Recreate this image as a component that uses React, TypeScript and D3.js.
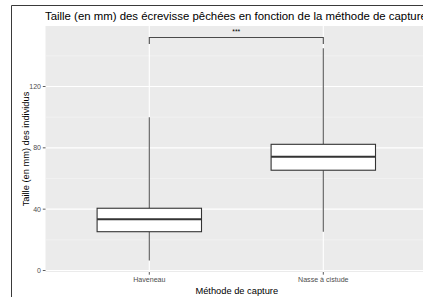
import { useEffect, useRef } from "react";
import * as d3 from "d3";

// categories and box statistics
const categories = ["Haveneau", "Nasse à cistude"];
const whiskerLow = [6.5, 25.3];
const q1 = [25.3, 65.4];
const median = [33.4, 74.2];
const q3 = [40.6, 82.3];
const whiskerHigh = [100, 145];
const majorTicks = [0, 40, 80, 120];
const minorTicks = [20, 60, 100, 140];
const signifLabel = "***";
const signifLevel = 152;

const W = 423;
const H = 297;

const App = () => {
  const svgRef = useRef<SVGSVGElement>(null);

  useEffect(() => {
    if (!svgRef.current) return;
    const svg = d3.select(svgRef.current);
    svg.selectAll("*").remove();

    const font = "'Liberation Sans', Arial, sans-serif";
    const panel = { left: 45.5, right: 429, top: 26, bottom: 272 };

    const y = d3.scaleLinear().domain([0, 120]).range([270.5, 86.5]);
    const x = d3.scalePoint<string>().domain(categories).range([149.3, 323.3]);
    const step = x(categories[1])! - x(categories[0])!;
    const boxW = step * 0.6;

    svg.append("rect").attr("width", W).attr("height", H).attr("fill", "#fff");

    // outer frame (left and top)
    svg.append("path")
      .attr("d", `M11.5,${H} V5.5 H${W}`)
      .attr("fill", "none")
      .attr("stroke", "#3a3a3a")
      .attr("stroke-width", 1);

    // title
    svg.append("text")
      .attr("x", 45)
      .attr("y", 19.5)
      .style("font-family", font)
      .style("font-size", "11.4px")
      .style("fill", "#000")
      .text("Taille (en mm) des écrevisse pêchées en fonction de la méthode de capture");

    // panel
    svg.append("rect")
      .attr("x", panel.left)
      .attr("y", panel.top)
      .attr("width", panel.right - panel.left)
      .attr("height", panel.bottom - panel.top)
      .attr("fill", "#ebebeb");

    const g = svg.append("g");

    g.selectAll(".minor")
      .data(minorTicks)
      .join("line")
      .attr("x1", panel.left).attr("x2", panel.right)
      .attr("y1", d => y(d)).attr("y2", d => y(d))
      .attr("stroke", "#f5f5f5")
      .attr("stroke-width", 0.6);

    g.selectAll(".major")
      .data(majorTicks)
      .join("line")
      .attr("x1", panel.left).attr("x2", panel.right)
      .attr("y1", d => y(d)).attr("y2", d => y(d))
      .attr("stroke", "#fff")
      .attr("stroke-width", 1.1);

    g.selectAll(".vgrid")
      .data(categories)
      .join("line")
      .attr("x1", d => x(d)!).attr("x2", d => x(d)!)
      .attr("y1", panel.top).attr("y2", panel.bottom)
      .attr("stroke", "#fff")
      .attr("stroke-width", 1.1);

    const boxColor = "#333";

    // whiskers, boxes, medians
    categories.forEach((c, i) => {
      const cx = x(c)!;
      g.append("line")
        .attr("x1", cx).attr("x2", cx)
        .attr("y1", y(q3[i])).attr("y2", y(whiskerHigh[i]))
        .attr("stroke", boxColor).attr("stroke-width", 1.1).attr("opacity", 0.8);
      g.append("line")
        .attr("x1", cx).attr("x2", cx)
        .attr("y1", y(q1[i])).attr("y2", y(whiskerLow[i]))
        .attr("stroke", boxColor).attr("stroke-width", 1.1).attr("opacity", 0.8);
      g.append("rect")
        .attr("x", cx - boxW / 2)
        .attr("y", y(q3[i]))
        .attr("width", boxW)
        .attr("height", y(q1[i]) - y(q3[i]))
        .attr("fill", "#fff")
        .attr("stroke", boxColor)
        .attr("stroke-width", 1.1);
      g.append("line")
        .attr("x1", cx - boxW / 2).attr("x2", cx + boxW / 2)
        .attr("y1", y(median[i])).attr("y2", y(median[i]))
        .attr("stroke", boxColor).attr("stroke-width", 2);
    });

    // significance bracket
    const bx1 = x(categories[0])!;
    const bx2 = x(categories[1])!;
    const by = y(signifLevel);
    const drop = 6.5;
    g.append("path")
      .attr("d", `M${bx1},${by + drop} V${by} H${bx2} V${by + drop}`)
      .attr("fill", "none")
      .attr("stroke", "#4a4a4a")
      .attr("stroke-width", 1.1);
    g.append("text")
      .attr("x", (bx1 + bx2) / 2)
      .attr("y", by - 3)
      .attr("text-anchor", "middle")
      .style("font-family", font)
      .style("font-size", "6.8px")
      .style("fill", "#000")
      .text(signifLabel);

    // y axis ticks and labels
    g.selectAll(".ytick")
      .data(majorTicks)
      .join("line")
      .attr("x1", panel.left - 2.7).attr("x2", panel.left)
      .attr("y1", d => y(d)).attr("y2", d => y(d))
      .attr("stroke", "#333").attr("stroke-width", 0.8);
    g.selectAll(".ylab")
      .data(majorTicks)
      .join("text")
      .attr("x", panel.left - 4.5)
      .attr("y", d => y(d))
      .attr("dy", "0.35em")
      .attr("text-anchor", "end")
      .style("font-family", font)
      .style("font-size", "7px")
      .style("fill", "#4d4d4d")
      .text(d => d);

    // x axis ticks and labels
    g.selectAll(".xtick")
      .data(categories)
      .join("line")
      .attr("x1", d => x(d)!).attr("x2", d => x(d)!)
      .attr("y1", panel.bottom).attr("y2", panel.bottom + 2.7)
      .attr("stroke", "#333").attr("stroke-width", 0.8);
    g.selectAll(".xlab")
      .data(categories)
      .join("text")
      .attr("x", d => x(d)!)
      .attr("y", panel.bottom + 9.8)
      .attr("text-anchor", "middle")
      .style("font-family", font)
      .style("font-size", "7.1px")
      .style("fill", "#4d4d4d")
      .text(d => d);

    // axis titles
    svg.append("text")
      .attr("x", (panel.left + 428) / 2)
      .attr("y", 293.5)
      .attr("text-anchor", "middle")
      .style("font-family", font)
      .style("font-size", "9.3px")
      .style("fill", "#000")
      .text("Méthode de capture");

    svg.append("text")
      .attr("transform", `translate(28.5,${(panel.top + panel.bottom) / 2}) rotate(-90)`)
      .attr("text-anchor", "middle")
      .style("font-family", font)
      .style("font-size", "9.3px")
      .style("fill", "#000")
      .text("Taille (en mm) des individus");
  }, []);

  return (
    <svg
      ref={svgRef}
      width={W}
      height={H}
      style={{ position: "absolute", left: 0, top: 0, display: "block" }}
    />
  );
};

export default App;
